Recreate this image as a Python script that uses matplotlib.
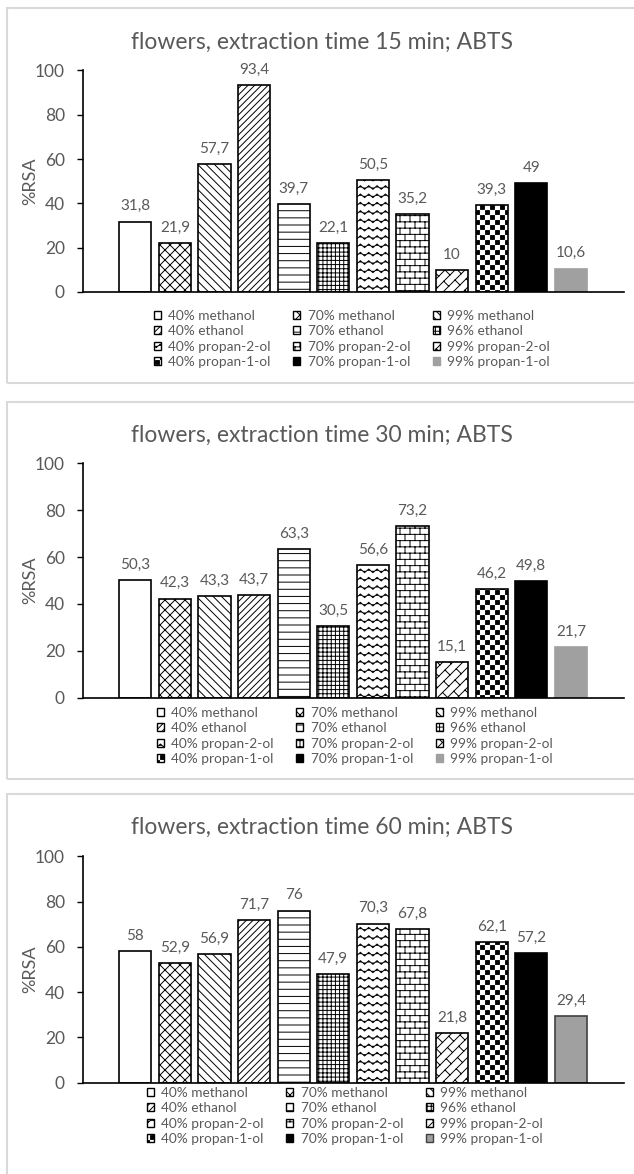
import numpy as np
import matplotlib
matplotlib.use("Agg")
import matplotlib.pyplot as plt
import matplotlib.hatch as mhatch
from matplotlib.path import Path
from matplotlib.patches import Rectangle, Patch

# --- dane ---
solvents = ["40% methanol", "70% methanol", "99% methanol",
            "40% ethanol", "70% ethanol", "96% ethanol",
            "40% propan-2-ol", "70% propan-2-ol", "99% propan-2-ol",
            "40% propan-1-ol", "70% propan-1-ol", "99% propan-1-ol"]
rsa_15 = [31.8, 21.9, 57.7, 93.4, 39.7, 22.1, 50.5, 35.2, 10, 39.3, 49, 10.6]
rsa_30 = [50.3, 42.3, 43.3, 43.7, 63.3, 30.5, 56.6, 73.2, 15.1, 46.2, 49.8, 21.7]
rsa_60 = [58, 52.9, 56.9, 71.7, 76, 47.9, 70.3, 67.8, 21.8, 62.1, 57.2, 29.4]
times = [15, 30, 60]
yticks = [0, 20, 40, 60, 80, 100]


# --- wlasne wzory kreskowania (fala, cegla, szachownica itd.) ---
def _lines(polylines):
    verts, codes = [], []
    for pl in polylines:
        for j, p in enumerate(pl):
            verts.append(p)
            codes.append(Path.MOVETO if j == 0 else Path.LINETO)
    return np.array(verts, float), np.array(codes, Path.code_type)


class _CustomHatch(mhatch.HatchPatternBase):
    char = "?"

    def __init__(self, hatch, density):
        if self.char in hatch:
            self.verts, self.codes = self.build()
            self.num_vertices = len(self.verts)
        else:
            self.num_vertices = 0

    def set_vertices_and_codes(self, vertices, codes):
        vertices[:] = self.verts
        codes[:] = self.codes


class CrossHatch(_CustomHatch):
    char = "c"

    def build(self):
        n = 10
        pls = []
        for k in range(-n - 1, n + 1):
            c = (k + 0.5) / n
            pls.append([(-0.1, -0.1 + c), (1.1, 1.1 + c)])
        for k in range(0, 2 * n + 1):
            d = (k + 0.5) / n
            pls.append([(-0.1, d + 0.1), (1.1, d - 1.1)])
        return _lines(pls)


class HLineHatch(_CustomHatch):
    char = "h"

    def build(self):
        n = 14
        return _lines([[(0, (i + 0.5) / n), (1, (i + 0.5) / n)] for i in range(n)])


class WaveHatch(_CustomHatch):
    char = "w"

    def build(self):
        rows, per, amp = 12, 12, 0.018
        xs = np.linspace(0, 1, per * 4 + 1)
        zig = np.array([0, 1, 0, -1] * per + [0]) * amp
        pls = []
        for i in range(rows):
            y0 = (i + 0.5) / rows
            pls.append(list(zip(xs, y0 + zig)))
        return _lines(pls)


class BrickHatch(_CustomHatch):
    char = "b"

    def build(self):
        r, b = 16, 10
        pls = []
        for i in range(r):
            y = (i + 0.5) / r
            pls.append([(0, y), (1, y)])
        for i in range(-1, r):
            y1, y2 = (i + 0.5) / r, (i + 1.5) / r
            for j in range(b + 1):
                x = (j + 0.5 * (i % 2)) / b
                pls.append([(x, y1), (x, y2)])
        return _lines(pls)


class DiagBrickHatch(_CustomHatch):
    char = "d"

    def build(self):
        n, m = 10, 8
        pls = []
        cs = [(k + 0.5) / n for k in range(-n - 1, n + 2)]
        for c in cs:
            pls.append([(-0.1, -0.1 + c), (1.1, 1.1 + c)])
        for k in range(len(cs) - 1):
            c1, c2 = cs[k], cs[k + 1]
            for j in range(-1, m + 2):
                d = (2 * j + (k % 2)) / m
                pls.append([((d - c1) / 2, (d + c1) / 2), ((d - c2) / 2, (d + c2) / 2)])
        return _lines(pls)


class CheckerHatch(_CustomHatch):
    char = "k"

    def build(self):
        n, e = 20, 0.006
        s = 1.0 / n
        verts, codes = [], []
        for i in range(n):
            for j in range(n):
                if (i + j) % 2:
                    continue
                x0, y0 = i * s + e, j * s + e
                x1, y1 = (i + 1) * s - e, (j + 1) * s - e
                verts += [(x0, y0), (x1, y0), (x1, y1), (x0, y1), (x0, y0)]
                codes += [Path.MOVETO, Path.LINETO, Path.LINETO, Path.LINETO, Path.CLOSEPOLY]
        return np.array(verts, float), np.array(codes, Path.code_type)


mhatch._hatch_types.extend([CrossHatch, HLineHatch, WaveHatch, BrickHatch,
                            DiagBrickHatch, CheckerHatch])
mhatch._validate_hatch_pattern = lambda hatch: None

hatches = ["", "c", "\\\\\\\\", "/////", "h", "++++", "w", "b", "d", "k", "", ""]
faces = ["white"] * 10 + ["black", "#a0a0a0"]

plt.rcParams["font.family"] = ["Lato", "DejaVu Sans"]
plt.rcParams["hatch.linewidth"] = 0.7
plt.rcParams["hatch.color"] = "black"
txt = "#595959"

W, H = 634, 1174
fig = plt.figure(figsize=(W / 100, H / 100), dpi=100)

# polozenia paneli w pikselach: (y dla 0, y dla 100, tytul, ramka, legenda)
panels = [
    dict(y0=292, y100=70.4, ty=42, box=(8, 383), leg=(153.5, 310), edge_gray="#a0a0a0"),
    dict(y0=697.7, y100=463.2, ty=435, box=(402, 779), leg=(156.5, 707), edge_gray="#a0a0a0"),
    dict(y0=1082.7, y100=856.4, ty=827, box=(794, 1190), leg=(146.5, 1087), edge_gray="#404040"),
]
data = [rsa_15, rsa_30, rsa_60]

order = [0, 3, 6, 9, 1, 4, 7, 10, 2, 5, 8, 11]

for p, vals, t in zip(panels, data, times):
    top, bot = p["box"]
    fig.patches.append(Rectangle((7 / W, 1 - bot / H), 1.2, (bot - top) / H,
                                 transform=fig.transFigure, fill=False,
                                 edgecolor="#d9d9d9", linewidth=1.5))
    ax = fig.add_axes([83 / W, 1 - p["y0"] / H, (624 - 83) / W, (p["y0"] - p["y100"]) / H])
    x = np.arange(len(vals))
    edges = ["black"] * 11 + [p["edge_gray"]]
    bars = ax.bar(x, vals, width=0.81, color=faces, edgecolor=edges, linewidth=1.2)
    for b, h in zip(bars, hatches):
        b.set_hatch(h)
    for xi, v in zip(x, vals):
        ax.annotate(f"{v:g}".replace(".", ","), (xi, v), xytext=(0, 6),
                    textcoords="offset points", ha="center", va="bottom",
                    fontsize=11, color=txt)
    ax.set_xlim(-1.32, 12.34)
    ax.set_ylim(0, 100)
    ax.set_yticks(yticks)
    ax.set_xticks([])
    ax.tick_params(axis="y", length=4, width=1, colors="black", labelcolor=txt,
                   labelsize=12.5, pad=9)
    for s in ["top", "right"]:
        ax.spines[s].set_visible(False)
    ax.spines["left"].set_linewidth(1.2)
    ax.spines["bottom"].set_linewidth(1.2)
    ax.set_ylabel("%RSA", fontsize=13, color=txt)
    ax.yaxis.set_label_coords(-0.082, 0.5)
    ax.patch.set_alpha(0)

    fig.text(322 / W, 1 - p["ty"] / H, f"flowers, extraction time {t} min; ABTS",
             ha="center", va="center", fontsize=16.5, color=txt)

    handles = [Patch(facecolor=faces[i], edgecolor=edges[i], hatch=hatches[i],
                     linewidth=1, label=solvents[i]) for i in order]
    lx, ly = p["leg"]
    ax.legend(handles=handles, ncol=3, loc="upper left",
              bbox_to_anchor=(lx / W, 1 - ly / H), bbox_transform=fig.transFigure,
              frameon=False, fontsize=9.8, labelcolor=txt, handlelength=0.52,
              handleheight=0.52, handletextpad=0.55, columnspacing=1.65,
              labelspacing=0.24, borderpad=0, borderaxespad=0)

fig.savefig("out.png", dpi=100, facecolor="white")
